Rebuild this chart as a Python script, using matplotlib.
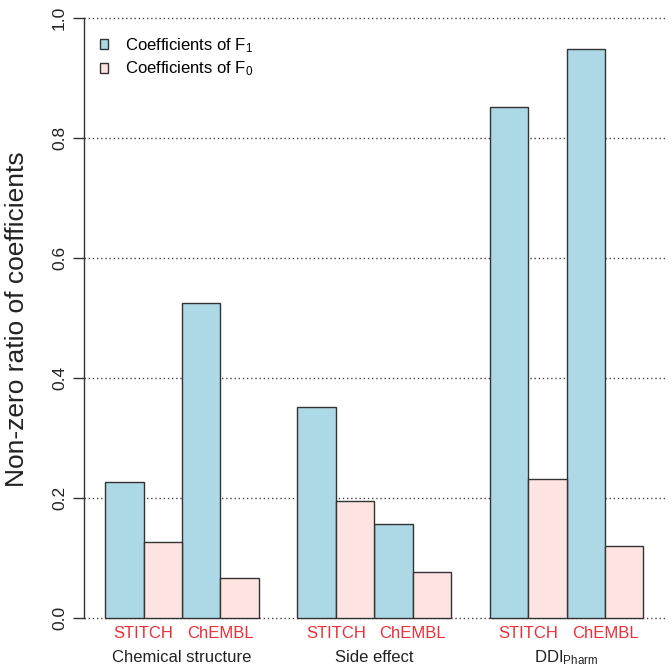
import matplotlib
matplotlib.use("Agg")
import matplotlib.pyplot as plt
import matplotlib.transforms as mtransforms
from matplotlib.patches import Patch
import numpy as np

plt.rcParams['font.family'] = ['Liberation Sans', 'DejaVu Sans']
plt.rcParams['mathtext.fontset'] = 'custom'
plt.rcParams['mathtext.rm'] = 'Liberation Sans'
plt.rcParams['mathtext.it'] = 'Liberation Sans:italic'

# ---- data ----
groups = ["Chemical structure", "Side effect", "DDI$_{\\mathrm{Pharm}}$"]
sources = ["STITCH", "ChEMBL"]
f1_values = [0.227, 0.526, 0.352, 0.157, 0.853, 0.949]   # Coefficients of F1
f0_values = [0.128, 0.068, 0.196, 0.078, 0.233, 0.120]   # Coefficients of F0
series_labels = ["Coefficients of F$_1$", "Coefficients of F$_0$"]
yticks = [0.0, 0.2, 0.4, 0.6, 0.8, 1.0]

blue = "#ADD8E6"
pink = "#FFE4E1"
edge = "#333333"
red = "#E8303A"

W = H = 672
fig = plt.figure(figsize=(6.72, 6.72), dpi=100)
x_left_px, x_right_px = 83.6, 665.0
y0_px, y1_px = 618.3, 18.3  # pixel rows of 0.0 and 1.0 (from top)
ylo, yhi = -0.04, 1.02
ppu = (y0_px - y1_px)
bottom_px = y0_px + (0 - ylo) * ppu
top_px = y0_px - yhi * ppu
ax = fig.add_axes([x_left_px / W, 1 - bottom_px / H,
                   (x_right_px - x_left_px) / W, (bottom_px - top_px) / H])
ax.set_xlim(0.44, 15.56)
ax.set_ylim(ylo, yhi)

# positions (R barplot: bar width 1, one bar-width gap before each group)
lefts = []
for g in range(len(groups)):
    base = 1 + g * 5
    for s in range(len(sources)):
        lefts.append(base + 2 * s)
lefts = np.array(lefts, dtype=float)

for yt in yticks:
    ax.axhline(yt, color="#444444", linestyle=(0, (1, 2)), linewidth=1.0, zorder=0)

ax.bar(lefts, f1_values, width=1.0, align='edge', color=blue,
       edgecolor=edge, linewidth=1.0, zorder=2, label=series_labels[0])
ax.bar(lefts + 1, f0_values, width=1.0, align='edge', color=pink,
       edgecolor=edge, linewidth=1.0, zorder=2, label=series_labels[1])

for sp in ['top', 'right', 'bottom']:
    ax.spines[sp].set_visible(False)
ax.spines['left'].set_bounds(0, 1)
ax.spines['left'].set_color("#333333")
ax.spines['left'].set_linewidth(1.0)
ax.set_xticks([])
ax.set_yticks(yticks)
ax.set_yticklabels([f"{v:.1f}" for v in yticks], rotation=90, va='center',
                   fontsize=12.5, color="#222222")
ax.tick_params(axis='y', length=8, width=1.0, color="#333333", pad=4)

trans = mtransforms.blended_transform_factory(ax.transData, fig.transFigure)
for i, lx in enumerate(lefts):
    ax.text(lx + 1, 1 - 633 / H, sources[i % 2], transform=trans,
            ha='center', va='center', fontsize=12, color=red)
for g, name in enumerate(groups):
    ax.text(1 + g * 5 + 2, 1 - 658 / H, name, transform=trans,
            ha='center', va='center', fontsize=12, color="#222222")

fig.text(17.5 / W, 1 - 319 / H, "Non-zero ratio of coefficients", rotation=90,
         ha='center', va='center', fontsize=19, color="#222222")

handles = [Patch(facecolor=blue, edgecolor=edge, linewidth=1.0),
           Patch(facecolor=pink, edgecolor=edge, linewidth=1.0)]
ax.legend(handles, series_labels, loc='upper left',
          bbox_to_anchor=(95 / W, 1 - 31 / H), bbox_transform=fig.transFigure,
          frameon=False, fontsize=12, handlelength=0.5, handleheight=0.5,
          handletextpad=1.0, labelspacing=0.3, borderaxespad=0, borderpad=0.3)

fig.savefig("out.png", dpi=100)
